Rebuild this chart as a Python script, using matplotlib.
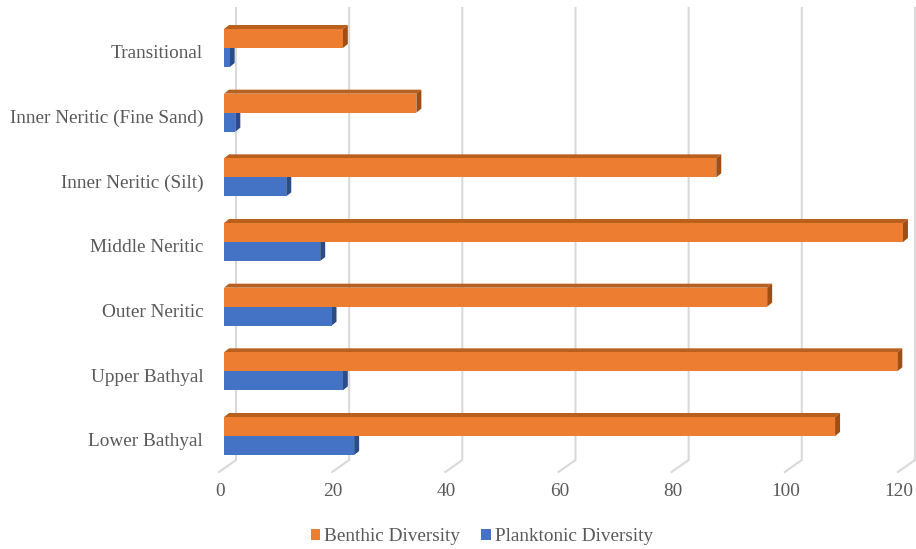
import numpy as np
import matplotlib
matplotlib.use("Agg")
import matplotlib.pyplot as plt
from matplotlib.patches import Polygon
from matplotlib.transforms import ScaledTranslation

# Diversity per depositional environment
zones = ["Lower Bathyal", "Upper Bathyal", "Outer Neritic", "Middle Neritic",
         "Inner Neritic (Silt)", "Inner Neritic (Fine Sand)", "Transitional"]
benthic = [108, 119, 96, 120, 87, 34, 21]
planktonic = [23, 21, 19, 17, 11, 2, 1]
xticks = [0, 20, 40, 60, 80, 100, 120]

plt.rcParams['font.family'] = ['Liberation Serif', 'DejaVu Serif']
text_color = '#595959'
fs = 13.9

fig = plt.figure(figsize=(9.16, 5.49), dpi=100)
W, H = 916, 549
# axes placed so that front faces of bars start at x=0
x0_px, x1_px = 224, 224 + 120 * 5.658
y_top_px, y_bot_px = 8, 472
ax = fig.add_axes([x0_px / W, (H - y_bot_px) / H,
                   (x1_px - x0_px) / W, (y_bot_px - y_top_px) / H])

px_x = (x1_px - x0_px) / 120.0        # pixels per data unit in x
px_y = (436 - 48) / 6.0               # pixels per category step
ax.set_xlim(0, 120)
ax.set_ylim(-(472 - 436) / px_y, 6 + (48 - y_top_px) / px_y)

# pseudo-3d offsets (in data units)
dx_bar, dy_bar = 5 / px_x, 4 / px_y
floor_front_x, floor_back_x = -5 / px_x, 12 / px_x
floor_front_y = -(472 - 436) / px_y
floor_back_y = -(460 - 436) / px_y
ytop = ax.get_ylim()[1]

# back wall gridlines with floor diagonals
for t in xticks:
    ax.plot([t + floor_front_x, t + floor_back_x, t + floor_back_x],
            [floor_front_y, floor_back_y, ytop],
            color='#d9d9d9', lw=1.5, clip_on=False, zorder=1)

def bar3d(y, h, w, front, top, side):
    yb, yt = y - h / 2, y + h / 2
    ax.add_patch(Polygon([(0, yt), (dx_bar, yt + dy_bar), (w + dx_bar, yt + dy_bar), (w, yt)],
                         closed=True, fc=top, ec='none', zorder=2, clip_on=False))
    ax.add_patch(Polygon([(w, yb), (w, yt), (w + dx_bar, yt + dy_bar), (w + dx_bar, yb + dy_bar)],
                         closed=True, fc=side, ec='none', zorder=2, clip_on=False))
    ax.barh(y, w, height=h, color=front, zorder=3, clip_on=False)

ypos = np.arange(len(zones))
bh = 19 / px_y
for i in ypos:
    bar3d(i - bh / 2, bh, planktonic[i], '#4472C4', '#2F528F', '#2C4C85')
    bar3d(i + bh / 2, bh, benthic[i], '#ED7D31', '#B9601F', '#A04E14')

# legend handles
ax.barh([-10], [0], color='#ED7D31', label='Benthic Diversity')
ax.barh([-10], [0], color='#4472C4', label='Planktonic Diversity')

for s in ax.spines.values():
    s.set_visible(False)

ax.set_yticks(ypos)
ax.set_yticklabels(zones)
ax.set_xticks(xticks)
ax.tick_params(axis='both', length=0, labelsize=fs, labelcolor=text_color)
ax.tick_params(axis='y', pad=15)
ax.tick_params(axis='x', pad=8)
for lab in ax.get_yticklabels():
    lab.set_transform(lab.get_transform() + ScaledTranslation(0, -4 / 100, fig.dpi_scale_trans))
for lab in ax.get_xticklabels():
    lab.set_transform(lab.get_transform() + ScaledTranslation(-4 / 100, 0, fig.dpi_scale_trans))

fig.legend(loc='center', bbox_to_anchor=(0.526, 0.022), ncol=2, frameon=False,
           fontsize=fs, labelcolor=text_color, handlelength=0.5, handleheight=0.5,
           handletextpad=0.2, columnspacing=1.1)

fig.savefig('out.png', dpi=100)
